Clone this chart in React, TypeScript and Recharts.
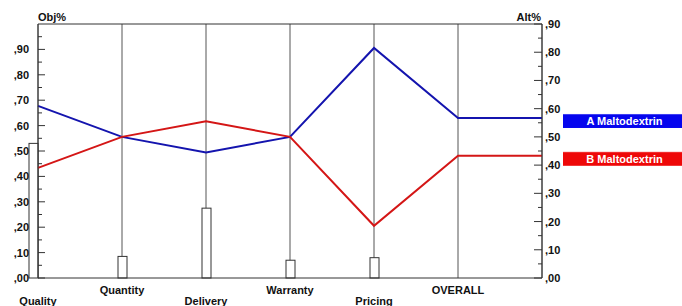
import { Bar, CartesianGrid, ComposedChart, Line, ReferenceLine, XAxis, YAxis } from "recharts"

const categories = ["Quality", "Quantity", "Delivery", "Warranty", "Pricing", "OVERALL"]
const objWeights = [0.53, 0.085, 0.275, 0.07, 0.08, null]
const altA = [0.61, 0.5, 0.445, 0.5, 0.815, 0.567]
const altB = [0.39, 0.5, 0.555, 0.5, 0.185, 0.433]
const altNames = ["A Maltodextrin", "B Maltodextrin"]
const objTicks = [0, 0.05, 0.1, 0.15, 0.2, 0.25, 0.3, 0.35, 0.4, 0.45, 0.5, 0.55, 0.6, 0.65, 0.7, 0.75, 0.8, 0.85, 0.9, 0.95]
const altTicks = [0, 0.05, 0.1, 0.15, 0.2, 0.25, 0.3, 0.35, 0.4, 0.45, 0.5, 0.55, 0.6, 0.65, 0.7, 0.75, 0.8, 0.85, 0.9]

const FONT = "'Liberation Sans', Arial, sans-serif"
const BLUE = "#1414ae"
const RED = "#d41616"

// one row per category, plus an end row so the OVERALL value runs flat to the right axis
const rows = [
  ...categories.map((name, i) => ({ x: i, name, obj: objWeights[i], a: altA[i], b: altB[i] })),
  { x: categories.length, name: "", obj: null, a: altA[altA.length - 1], b: altB[altB.length - 1] },
]

const fmt = (v: number) => "," + String(Math.round(v * 100)).padStart(2, "0")
const isMajor = (v: number) => Math.round(v * 100) % 10 === 0

function LeftTick({ x, y, payload }: any) {
  const major = isMajor(payload.value)
  return (
    <g>
      <line x1={x} x2={x + (major ? 7 : 4)} y1={y} y2={y} stroke="#333" />
      {major && (
        <text x={x - 9} y={y} dy="0.36em" textAnchor="end" fontSize={11} fontWeight="bold" fontFamily={FONT} fill="#111">
          {fmt(payload.value)}
        </text>
      )}
    </g>
  )
}

function RightTick({ x, y, payload }: any) {
  const major = isMajor(payload.value)
  return (
    <g>
      <line x1={x} x2={x - (major ? 8 : 4)} y1={y} y2={y} stroke="#333" />
      {major && (
        <text x={x + 3} y={y} dy="0.36em" textAnchor="start" fontSize={11} fontWeight="bold" fontFamily={FONT} fill="#111">
          {fmt(payload.value)}
        </text>
      )}
    </g>
  )
}

function CatTick({ x, y, payload }: any) {
  const i = payload.value
  return (
    <text x={x} y={y + (i % 2 ? 16 : 27)} textAnchor="middle" fontSize={11} fontWeight="bold" fontFamily={FONT} fill="#111">
      {categories[i]}
    </text>
  )
}

function AxisTitle({ viewBox, text, side }: any) {
  const x = side === "left" ? viewBox.x + viewBox.width : viewBox.x - 1
  return (
    <text x={x} y={viewBox.y - 3} textAnchor={side === "left" ? "start" : "end"} fontSize={11} fontWeight="bold" fontFamily={FONT} fill="#111">
      {text}
    </text>
  )
}

function ObjBar(props: any) {
  const { x, y, width, height, index } = props
  if (!height) return <g />
  // the first weight bar sits just left of the axis
  const left = index === 0 ? x - width / 2 - 0.5 : x
  return <rect x={left} y={y} width={width} height={height} fill="#fff" stroke="#333" />
}

function endBox(name: string, color: string) {
  return (props: any) => {
    const { cx, cy, index } = props
    if (index !== rows.length - 1) return <g key={index} />
    const bx = cx + 21
    return (
      <g key={index}>
        <rect x={bx} y={cy - 4} width={682 - bx} height={14} fill={color} />
        <line x1={bx} x2={682} y1={cy - 4} y2={cy - 4} stroke="#fff" strokeOpacity={0.5} />
        <text x={bx + (682 - bx) / 2 + 2} y={cy + 7} textAnchor="middle" fontSize={11} fontWeight="bold" fontFamily={FONT} fill="#fff">
          {name}
        </text>
      </g>
    )
  }
}

export default function App() {
  return (
    <div style={{ position: "absolute", left: 0, top: 0, background: "#fff" }}>
      <ComposedChart width={682} height={306} data={rows} margin={{ top: 24, right: 0, bottom: 0, left: 0 }}>
        <CartesianGrid yAxisId="left" horizontal={false} stroke="#555" />
        <XAxis
          dataKey="x"
          type="number"
          domain={[0, categories.length]}
          ticks={categories.map((_, i) => i)}
          height={28}
          tickSize={0}
          tickMargin={0}
          tick={<CatTick />}
          axisLine={{ stroke: "#333" }}
          interval={0}
        />
        <YAxis
          yAxisId="left"
          domain={[0, 1]}
          ticks={objTicks}
          width={38}
          tickSize={0}
          tickMargin={0}
          tick={<LeftTick />}
          axisLine={{ stroke: "#333" }}
          interval={0}
          label={<AxisTitle text="Obj%" side="left" />}
        />
        <YAxis
          yAxisId="right"
          orientation="right"
          domain={[0, 0.9]}
          ticks={altTicks}
          width={140}
          tickSize={0}
          tickMargin={0}
          tick={<RightTick />}
          axisLine={{ stroke: "#333" }}
          interval={0}
          label={<AxisTitle text="Alt%" side="right" />}
        />
        <ReferenceLine yAxisId="left" y={1} stroke="#333" />
        <Bar yAxisId="left" dataKey="obj" barSize={9} shape={<ObjBar />} isAnimationActive={false} />
        <Line yAxisId="right" type="linear" dataKey="a" stroke={BLUE} strokeWidth={2} dot={endBox(altNames[0], "#0505ee")} activeDot={false} isAnimationActive={false} />
        <Line yAxisId="right" type="linear" dataKey="b" stroke={RED} strokeWidth={2} dot={endBox(altNames[1], "#ee0808")} activeDot={false} isAnimationActive={false} />
      </ComposedChart>
    </div>
  )
}
